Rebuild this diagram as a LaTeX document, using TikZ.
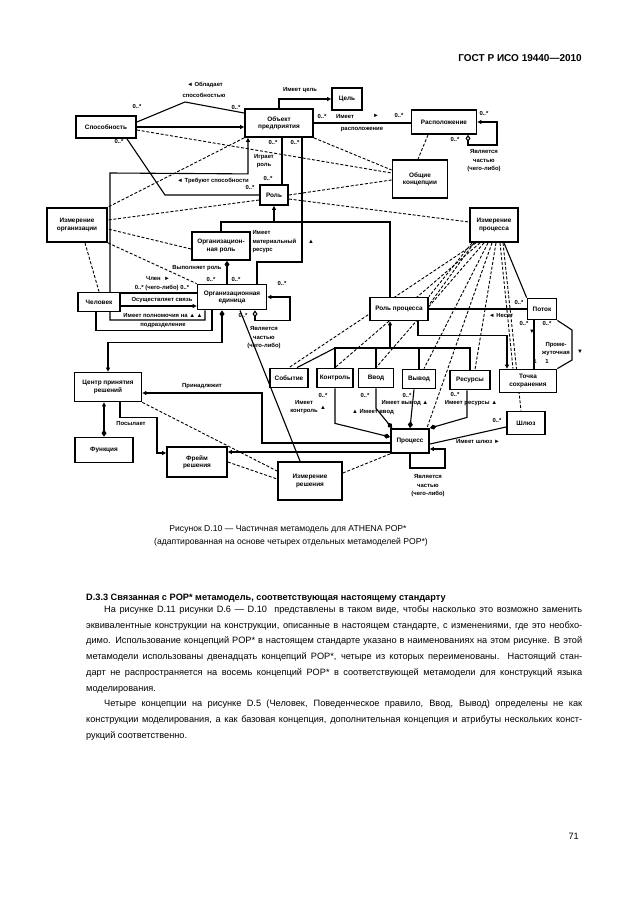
\documentclass[tikz,border=0pt]{standalone}
\usepackage{fontspec}
\setmainfont{Liberation Sans}
\usetikzlibrary{arrows.meta,calc}
\pgfdeclarelayer{bg}
\pgfsetlayers{bg,main}
\newcommand{\bxf}{\fontsize{6.4}{7.2}\selectfont\bfseries}
\newcommand{\lbf}{\fontsize{5.9}{8.5}\selectfont\bfseries}
\newcommand{\bodyf}{\fontsize{9.2}{15.7}\selectfont}
\tikzset{
 bx/.style={draw, line width=1.8pt, fill=white, font=\bxf, align=center, inner sep=1pt},
 lb/.style={font=\lbf, inner sep=0.3pt, align=center},
 conn/.style={line width=1.1pt},
 dconn/.style={line width=0.9pt, dash pattern=on 3pt off 1.8pt},
 tri/.tip={Triangle[length=4pt,width=4pt]},
 dia/.tip={Diamond[length=7pt,width=5pt]},
 odia/.tip={Diamond[open,length=7pt,width=5pt,fill=white]},
 bline/.style={anchor=base west, inner sep=0pt, font=\bodyf},
}
\begin{document}
\begin{tikzpicture}[x=1pt,y=-1pt]
\useasboundingbox (0,0) rectangle (630,913);
% ---------- boxes ----------
\node[bx,minimum width=60,minimum height=22] (sp) at (106,127) {Способность};
\node[bx,minimum width=68,minimum height=28] (ob) at (279,123) {Объект\\предприятия};
\node[bx,minimum width=30,minimum height=22] (cel) at (347,99) {Цель};
\node[bx,minimum width=65,minimum height=24] (ras) at (444,122) {Расположение};
\node[bx,minimum width=55,minimum height=38] (ok) at (420,179) {Общие\\концепции};
\node[bx,minimum width=28,minimum height=20] (rol) at (274,195) {Роль};
\node[bx,minimum width=60,minimum height=34] (io) at (77,225) {Измерение\\организации};
\node[bx,minimum width=58,minimum height=28] (orol) at (221,246) {Организацион-\\ная роль};
\node[bx,minimum width=48,minimum height=34] (ip) at (494,225) {Измерение\\процесса};
\node[bx,minimum width=69,minimum height=25] (oe) at (232,297) {Организационная\\единица};
\node[bx,minimum width=42,minimum height=19] (chel) at (99,302) {Человек};
\node[bx,minimum width=58,minimum height=23] (rp) at (399,309) {Роль процесса};
\node[bx,minimum width=29,minimum height=21] (pot) at (542,309) {Поток};
\node[bx,minimum width=57,minimum height=23] (tch) at (528,381) {Точка\\сохранения};
\node[bx,minimum width=67,minimum height=29] (cpr) at (108,387) {Центр принятия\\решений};
\node[bx,minimum width=58,minimum height=25] (fun) at (104,450) {Функция};
\node[bx,minimum width=60,minimum height=30] (fr) at (197,462) {Фрейм\\решения};
\node[bx,minimum width=64,minimum height=38] (ir) at (310,481) {Измерение\\решения};
\node[bx,minimum width=38,minimum height=19] (sob) at (289,378) {Событие};
\node[bx,minimum width=36,minimum height=19] (kon) at (335,378) {Контроль};
\node[bx,minimum width=35,minimum height=19] (vvod) at (376,378) {Ввод};
\node[bx,minimum width=33,minimum height=19] (vyv) at (419,379) {Вывод};
\node[bx,minimum width=40,minimum height=19] (res) at (470,380) {Ресурсы};
\node[bx,minimum width=38,minimum height=24] (pr) at (410,441) {Процесс};
\node[bx,minimum width=38,minimum height=23] (shl) at (526,423) {Шлюз};
\coordinate (gbar) at (0,348);
\coordinate (rpb) at ([xshift=-9pt]rp.south);
% ---------- connectors ----------
\begin{pgfonlayer}{bg}
\draw[conn,-tri] (sp.east) -- (ob.west |- sp.east);
\draw[conn] ([yshift=5pt]sp.east) -- (185,102) -- ([yshift=10pt]ob.west);
\draw[dconn] ([yshift=-3pt]sp.east) -- ([yshift=6pt]ok.west);
\draw[conn] ([xshift=21pt]sp.south) -- (165,195) -- (rol.west);
\draw[conn,-tri] (ob.north) |- (cel.west);
\draw[conn] (ob.east) -- (ob.east -| ras.west);
\draw[dconn] (ob.south east) -- ([yshift=9pt]ok.west);
\draw[dconn] (ob.south west) -- (io.north east);
\draw[conn,tri-] ([xshift=-31pt]ob.south) -- ++(0,36) -- (110,173) -- (110,320) -| ([xshift=-27pt]oe.south);
\draw[conn] ([xshift=3pt]ob.south) -- ([xshift=8pt]rol.north);
\draw[conn] ([xshift=23pt]ob.south) -- (302,262) -| ([xshift=25pt]oe.north);
\draw[dconn] ([yshift=-5pt]rol.west) -- ([yshift=5pt]io.east);
\draw[dconn] (rol.east) -- ([yshift=-1pt]ok.west);
\draw[dconn] ([yshift=-4pt]rol.east) -- ([yshift=3pt]ip.west);
\draw[conn,-tri] (orol.north) |- (274,222) -- (rol.south);
\draw[conn] (274,222) -| (rpb |- rp.north);
\draw[dconn] ([xshift=-16pt]ras.south) -- ([xshift=-2pt]ok.north);
\draw[conn,odia-tri] ([xshift=24pt]ras.south) |- (497,145) |- (ras.east);
\draw[dconn] ([yshift=-3pt]orol.west) -- ([yshift=-4pt]io.east);
\draw[dconn] (io.south east) -- (oe.north west);
\draw[dconn] ([xshift=8pt]io.south) -- (chel.north);
\draw[conn,dia-] ([xshift=6pt]orol.south) -- ([xshift=6pt]orol.south |- oe.north);
\draw[conn] ([yshift=9pt]chel.east) -- ([yshift=9pt]chel.east -| oe.west);
\draw[conn,-tri] ([yshift=-4pt]chel.east) -- ([yshift=-4pt]chel.east -| oe.west);
\draw[conn] ([xshift=-20pt]oe.south) -- ++(0,20) -| ([xshift=-3pt]chel.south);
\draw[conn,odia-tri] ([xshift=23pt]oe.south) -- ++(0,10) -| (290,297) -- (oe.east);
\draw[conn,dia-tri] ([xshift=-10pt]oe.south) -- ++(0,32) -| (cpr.north);
\draw[conn] ([xshift=8pt]oe.south) -- ([xshift=-10pt]ir.north);
\draw[conn,tri-dia] ([xshift=-4pt]cpr.south) -- (fun.north);
\draw[conn,-tri] ([xshift=12pt]cpr.south) -- ++(0,15) -| (157,453) -- ([yshift=9pt]fr.west);
\draw[conn,-tri] ([yshift=-2pt]pr.west) -| (262,393) -- ([yshift=-6pt]cpr.east);
\draw[conn,-tri] ([yshift=-11pt]pr.west) -- ([yshift=-11pt]pr.west -| fr.east);
\draw[dconn] (cpr.south east) -- ([yshift=10pt]ir.west);
\draw[dconn] (fr.east) -- ([yshift=2pt]ir.west);
\draw[dconn] (pr.south west) -- ([yshift=8pt]ir.east);
\draw[conn] (rp.east) -- (pot.west);
\draw[conn,-tri] ([xshift=19pt]rp.south) -- ++(0,14) -| ([xshift=-21pt]tch.north);
\draw[conn,-tri] (rpb |- gbar) -- (rpb);
\draw[conn] (kon.north) -- (kon.north |- gbar) -- (res.north |- gbar) -- (res.north);
\draw[conn] (vvod.north) -- (vvod.north |- gbar);
\draw[conn] (vyv.north) -- (vyv.north |- gbar);
\draw[conn] ([xshift=8pt]sob.north) -- (kon.north |- gbar);
\draw[conn,-dia] (kon.south) -- ++(0,35) -- ([yshift=4pt]pr.west);
\draw[conn,-dia] (vvod.south) -- ++(0,20) -- ([xshift=2pt]pr.north west);
\draw[conn,-dia] ([xshift=-5pt]vyv.south) -- (pr.north);
\draw[conn,-dia] ([xshift=-3pt]res.south) -- ++(0,27) -- (pr.north east);
\draw[conn] ([yshift=-3pt]pr.east) -- ([yshift=-4pt]shl.west);
\draw[conn,tri-] ([yshift=-8pt]pr.east) -| (445,468) -| (pr.south);
\draw[conn] (pot.south east) -- (572,330) -- (572,360) -- (tch.north east);
\draw[conn] ([xshift=-8pt]pot.south) -- ([xshift=6pt]tch.north);
\draw[conn] ([xshift=10pt]ip.south) -- (pot.north west);
\draw[dconn] ([xshift=-22pt]ip.south) -- (rp.north east);
\draw[dconn] ([xshift=-20pt]ip.south) -- ([xshift=18pt]rp.south);
\draw[dconn] ([xshift=-18pt]ip.south) -- (sob.north);
\draw[dconn] ([xshift=-14pt]ip.south) -- (kon.north);
\draw[dconn] ([xshift=-10pt]ip.south) -- (vvod.north);
\draw[dconn] ([xshift=-6pt]ip.south) -- ([xshift=5pt]vyv.north);
\draw[dconn] ([xshift=-2pt]ip.south) -- ([xshift=-3pt]pr.north east);
\draw[dconn] ([xshift=2pt]ip.south) -- ([xshift=5pt]res.north);
\draw[dconn] ([xshift=6pt]ip.south) -- ([xshift=-15pt]tch.north);
\draw[dconn] ([xshift=9pt]ip.south) -- ([xshift=-5pt]shl.north);
\end{pgfonlayer}
% ---------- labels ----------
\node[lb] (l1) at (205,85) {◄ Обладает};
\node[lb] (l2) at (204,95) {способностью};
\node[lb] (l3) at (137,106) {0..*};
\node[lb] (l4) at (236,107) {0..*};
\node[lb] (l5) at (119,141) {0..*};
\node[lb] (l6) at (300,90) {Имеет цель};
\node[lb] (l7) at (322,116) {0..*};
\node[lb] (l8) at (345,116) {Имеет};
\node[lb] (l9) at (376,116) {►};
\node[lb] (l10) at (362,130) {расположение};
\node[lb] (l11) at (399,115) {0..*};
\node[lb] (l12) at (484,113) {0..*};
\node[lb] (l13) at (455,139) {0..*};
\node[lb] (l14) at (484,161) {Является\\частью\\(чего-либо)};
\node[lb] (l15) at (213,181) {◄ Требуют способности};
\node[lb] (l16) at (264,161) {Играет\\роль};
\node[lb] (l17) at (273,142) {0..*};
\node[lb] (l18) at (295,142) {0..*};
\node[lb] (l19) at (268,178) {0..*};
\node[lb] (l20) at (250,187) {0..*};
\node[lb,align=left,anchor=west] (l21) at (252,242) {Имеет\\материальный\\ресурс};
\node[lb] (l22) at (311,242) {▲};
\node[lb] (l23) at (197,268) {Выполняет роль};
\node[lb] (l24) at (211,279) {0..*};
\node[lb] (l25) at (236,279) {0..*};
\node[lb] (l26) at (282,283) {0..*};
\node[lb] (l27) at (243,315) {0..*};
\node[lb] (l28) at (264,338) {Является\\частью\\(чего-либо)};
\node[lb] (l29) at (158,279) {Член\ \ ►};
\node[lb] (l30) at (162,288) {0..* (чего-либо) 0..*};
\node[lb] (l31) at (162,300) {Осуществляет связь};
\node[lb] (l32) at (163,315) {Имеет полномочия на ▲ ▲};
\node[lb] (l33) at (163,326) {подразделение};
\node[lb] (l34) at (202,386) {Принадлежит};
\node[lb] (l35) at (131,423) {Посылает};
\node[lb] (l36) at (323,395) {0..*};
\node[lb] (l37) at (304,407) {Имеет\\контроль};
\node[lb] (l39) at (323,408) {▲};
\node[lb] (l40) at (365,395) {0..*};
\node[lb] (l41) at (373,412) {▲ Имеет ввод};
\node[lb] (l42) at (407,395) {0..*};
\node[lb] (l43) at (405,403) {Имеет вывод ▲};
\node[lb] (l44) at (455,394) {0..*};
\node[lb] (l45) at (471,403) {Имеет ресурсы ▲};
\node[lb] (l46) at (478,442) {Имеет шлюз ►};
\node[lb] (l47) at (497,420) {0..*};
\node[lb] (l48) at (428,486) {Является\\частью\\(чего-либо)};
\node[lb] (l49) at (519,302) {0..*};
\node[lb] (l50) at (501,316) {◄ Несет};
\node[lb] (l51) at (524,323) {0..*};
\node[lb] (l51b) at (532,332) {▼};
\node[lb] (l52) at (547,323) {0..*};
\node[lb] (l53) at (556,349) {Проме-\\жуточная};
\node[lb] (l54) at (580,352) {▼};
\node[lb] (l55) at (535,361) {1};
\node[lb] (l56) at (547,361) {1};
% ---------- page text ----------
\node[anchor=base east, inner sep=0pt, font=\fontsize{10}{12}\selectfont\bfseries] (hdr) at (582,61) {ГОСТ Р ИСО 19440—2010};
\node[anchor=base, inner sep=0pt, font=\fontsize{8.6}{12}\selectfont] (cap1) at (288,531) {Рисунок D.10 — Частичная метамодель для ATHENA POP*};
\node[anchor=base, inner sep=0pt, font=\fontsize{8.6}{12}\selectfont] (cap2) at (291,544) {(адаптированная на основе четырех отдельных метамоделей POP*)};
\node[anchor=base west, inner sep=0pt, font=\fontsize{9.2}{12}\selectfont\bfseries] (sec) at (86,600.5) {D.3.3 Связанная с POP* метамодель, соответствующая настоящему стандарту};
\node[bline] (t1) at (104,612.5) {\makebox[478pt][s]{На рисунке D.11 рисунки D.6 — D.10\ \ представлены в таком виде, чтобы насколько это возможно заменить}};
\node[bline] (t2) at (86,628.2) {\makebox[496pt][s]{эквивалентные конструкции на конструкции, описанные в настоящем стандарте, с изменениями, где это необхо-}};
\node[bline] (t3) at (86,643.9) {\makebox[496pt][s]{димо. Использование концепций POP* в настоящем стандарте указано в наименованиях на этом рисунке. В этой}};
\node[bline] (t4) at (86,659.6) {\makebox[496pt][s]{метамодели использованы двенадцать концепций POP*, четыре из которых переименованы. Настоящий стан-}};
\node[bline] (t5) at (86,675.3) {\makebox[496pt][s]{дарт не распространяется на восемь концепций POP* в соответствующей метамодели для конструкций языка}};
\node[bline] (t6) at (86,691.0) {моделирования.};
\node[bline] (t7) at (104,706.7) {\makebox[478pt][s]{Четыре концепции на рисунке D.5 (Человек, Поведенческое правило, Ввод, Вывод) определены не как}};
\node[bline] (t8) at (86,722.4) {\makebox[496pt][s]{конструкции моделирования, а как базовая концепция, дополнительная концепция и атрибуты нескольких конст-}};
\node[bline] (t9) at (86,738.1) {рукций соответственно.};
\node[anchor=base east, inner sep=0pt, font=\fontsize{9.2}{12}\selectfont] (pg) at (579,839) {71};
\end{tikzpicture}
\end{document}
